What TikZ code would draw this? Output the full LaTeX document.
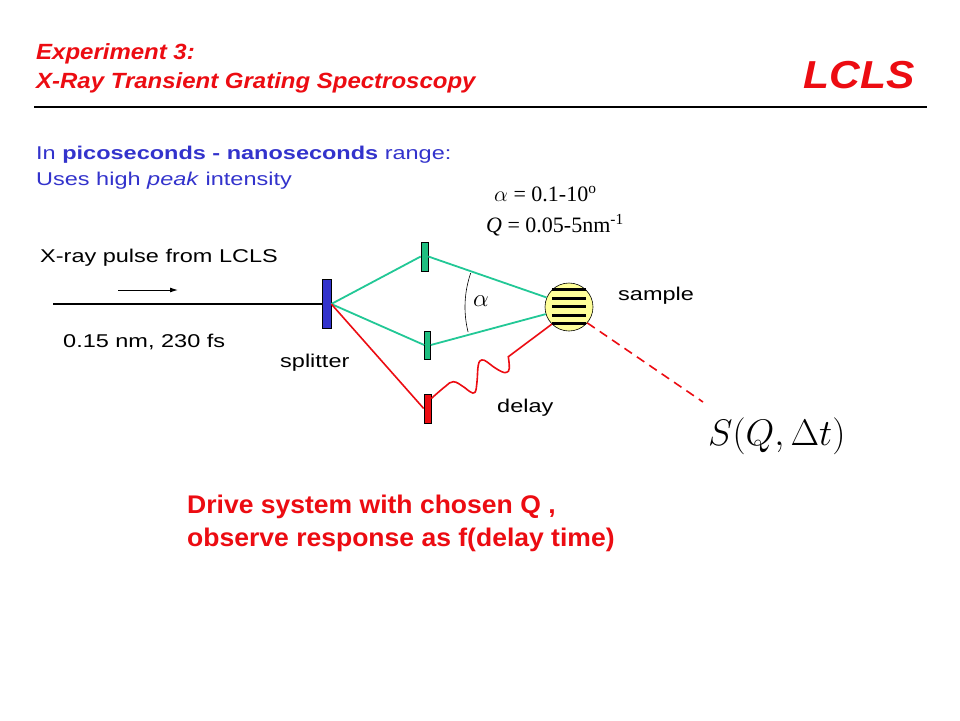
\RequirePackage{fix-cm}
\documentclass[tikz,border=0pt]{standalone}
\usepackage{fontspec}
\setmainfont{Liberation Sans}[FakeStretch=1.27]
\newfontfamily\headfont{Liberation Sans}[FakeStretch=1.09]
\newfontfamily\drivefont{Liberation Sans}[FakeStretch=1.04]
\newfontfamily\timesfont{Liberation Serif}
\usetikzlibrary{calc,arrows.meta}

\definecolor{slidered}{RGB}{236,12,18}
\definecolor{slideblue}{RGB}{51,51,204}
\definecolor{beamgreen}{RGB}{34,200,150}
\definecolor{mirrorgreen}{RGB}{30,190,128}
\definecolor{samplefill}{RGB}{255,255,153}

\tikzset{
  mirror/.style={draw=black, line width=0.6pt, inner sep=0pt, minimum width=7pt, minimum height=29pt},
  greenbeam/.style={draw=beamgreen, line width=1.8pt},
  redbeam/.style={draw=slidered, line width=1.6pt},
  label/.style={anchor=base west, inner sep=0pt}
}

\begin{document}
\begin{tikzpicture}[x=1pt, y=-1pt]
  \useasboundingbox[fill=white] (0,0) rectangle (960,720);

  % heading
  \node[label, text=slidered, font=\headfont\fontsize{22}{26}\selectfont\bfseries\itshape] (exp) at (36,59) {Experiment 3:};
  \node[label, text=slidered, font=\headfont\fontsize{22}{26}\selectfont\bfseries\itshape] (title) at (36,88) {X-Ray Transient Grating Spectroscopy};
  \node[anchor=base east, inner sep=0pt, text=slidered, font=\headfont\fontsize{39}{44}\selectfont\bfseries\itshape] (lcls) at (915,88) {LCLS};
  \draw[line width=2.3pt] (34,107) -- (927,107);

  \node[label, text=slideblue, font=\fontsize{18.5}{22}\selectfont] (range) at (36,159) {In \textbf{picoseconds - nanoseconds} range:};
  \node[label, text=slideblue, font=\fontsize{18.5}{22}\selectfont] (peak) at (36,185) {Uses high \textit{peak} intensity};

  \node[label, font=\timesfont\fontsize{22}{24}\selectfont] (alpharange) at (494,201) {$\alpha$ = 0.1-10\textsuperscript{o}};
  \node[label, font=\timesfont\fontsize{22}{24}\selectfont] (qrange) at (486,232) {\textit{Q} = 0.05-5nm\textsuperscript{-1}};

  % incoming pulse
  \node[label, font=\fontsize{18.5}{22}\selectfont] (pulse) at (40,262) {X-ray pulse from LCLS};
  \node[label, font=\fontsize{18.5}{22}\selectfont] (pulsedata) at (63,347) {0.15 nm, 230 fs};
  \coordinate (src) at (53,304);
  \draw[-{Latex[length=8pt,width=5pt]}, line width=1pt] (118,290) -- (178,290);

  % optics
  \node[mirror, fill=slideblue, minimum width=9pt, minimum height=49pt] (split) at (326.5,304) {};
  \node[label, font=\fontsize{18.5}{22}\selectfont] (splitlabel) at (280,367) {splitter};
  \node[mirror, fill=mirrorgreen] (mup) at (424.5,256.5) {};
  \node[mirror, fill=mirrorgreen, minimum width=6pt, minimum height=28pt] (mlow) at (427.5,345) {};
  \node[mirror, fill=slidered] (mdelay) at (427.5,408.5) {};
  \node[circle, draw=black, line width=0.6pt, fill=samplefill, minimum size=48pt, inner sep=0pt] (smp) at (569,307) {};
  \foreach \y in {289,298,306,315,323}
    \draw[line width=3pt] (552,\y) -- (586,\y);
  \node[label, font=\fontsize{18.5}{22}\selectfont] (smplabel) at (618,300) {sample};
  \node[label, font=\fontsize{18.5}{22}\selectfont] (delaylabel) at (497,412) {delay};

  % beams
  \draw[line width=1.8pt] (src) -- (split.west);
  \draw[greenbeam] (split.east) -- (mup.west);
  \draw[greenbeam] (mup.east) -- (smp.157);
  \draw[greenbeam] (split.east) -- (mlow.west);
  \draw[greenbeam] (mlow.east) -- (smp.197);
  \draw[redbeam] (split.east) -- (mdelay.west);
  \draw[redbeam] plot[smooth, tension=0.7] coordinates {($(mdelay.east)+(0,-10)$) (445,386.7) (453.3,381.7) (463.3,386.7) (470,391.7) (475,392.3) (477,381.7) (478.3,365) (481.7,360) (486.7,361.7) (493.3,366.7) (501.7,371.7) (506.7,372.3) (509.3,368.3) (508.3,356.7)} -- (smp.225);

  % angle between the two pump beams
  \draw[line width=0.6pt] (smp.center) ++(161:104pt) arc[start angle=161, end angle=194, radius=104pt];
  \node[label, font=\fontsize{25}{27}\selectfont] (alpha) at (473,306) {$\alpha$};

  % scattered signal
  \node[label, font=\fontsize{37}{40}\selectfont] (sfun) at (708,445) {$S(Q,\Delta t)$};
  \coordinate (sig) at (703,402);
  \draw[redbeam, dash pattern=on 9pt off 6pt] (smp.319) -- (sig);

  \node[label, text=slidered, font=\drivefont\fontsize{25.5}{30}\selectfont\bfseries] (drive) at (187,513) {Drive system with chosen Q ,};
  \node[label, text=slidered, font=\drivefont\fontsize{25.5}{30}\selectfont\bfseries] (observe) at (187,546) {observe response as f(delay time)};
\end{tikzpicture}
\end{document}
